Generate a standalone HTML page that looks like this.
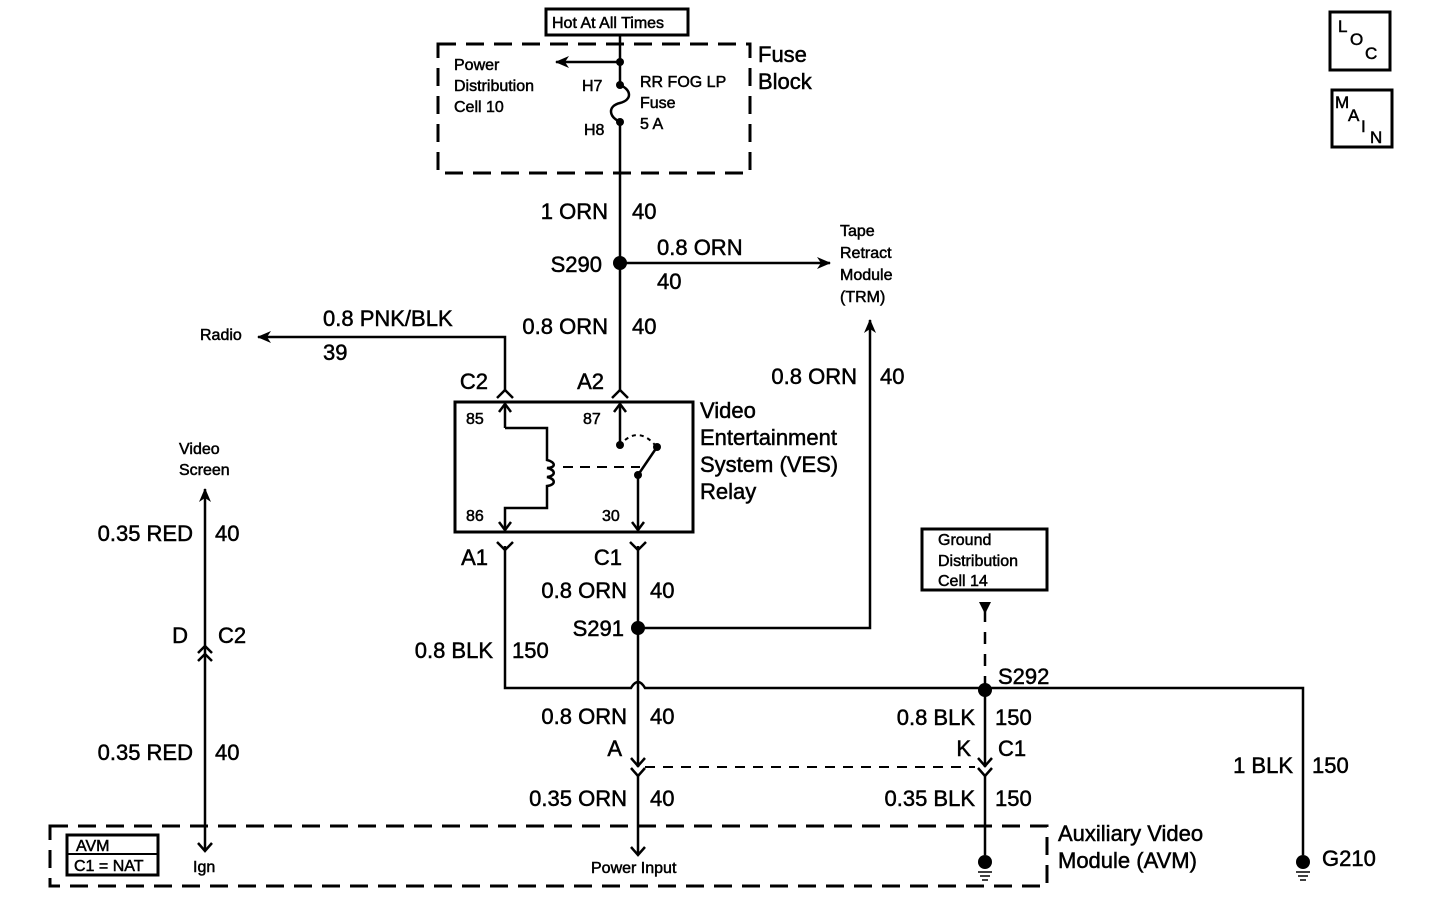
<!DOCTYPE html>
<html><head><meta charset="utf-8"><style>html,body{margin:0;padding:0;background:#fff}svg{display:block}text{font-family:"Liberation Sans",Arial,sans-serif;fill:#000;stroke:#000;stroke-width:0.5}</style></head><body>
<svg width="1440" height="910" viewBox="0 0 1440 910" xmlns="http://www.w3.org/2000/svg">
<defs>
<marker id="ar" markerWidth="14" markerHeight="12" refX="13" refY="6" orient="auto" markerUnits="userSpaceOnUse"><path d="M0,0 L14,6 L0,12 L4,6 Z" fill="#000"/></marker>
</defs>
<g fill="none" stroke="#000" stroke-width="2.5">
<rect x="546" y="9" width="142" height="26" stroke-width="3"/>
<rect x="438" y="44" width="312" height="129" stroke-dasharray="18,10" stroke-width="3"/>
<path d="M620,35 V85"/>
<path d="M620,62 H556" marker-end="url(#ar)"/>
<path d="M620,85 C632,90 632,100 620,103 C608,106 608,116 620,122 V390"/>
<path d="M620,263 H830" marker-end="url(#ar)"/>
<path d="M505,390 V337 H258" marker-end="url(#ar)"/>
<path d="M497,398 L505,390 L513,398"/><path d="M612,398 L620,390 L628,398"/>
<rect x="455" y="402" width="238" height="130" stroke-width="3"/>
<path d="M505,428 V404"/><path d="M499,412 L505,404 L511,412"/>
<path d="M505,428 H547 V460 C556,462 556,468 547,468 C556,470 556,476 547,477 C556,479 556,485 547,486 V508 H505 V530"/>
<path d="M499,522 L505,530 L511,522"/>
<path d="M620,445 V404"/><path d="M614,412 L620,404 L626,412"/>
<path d="M625,440 Q640,428 655,445" stroke-dasharray="4,4" stroke-width="2"/>
<path d="M563,467 H640" stroke-dasharray="10,7" stroke-width="2"/>
<path d="M638,475 L657,447"/>
<path d="M638,475 V530"/><path d="M632,522 L638,530 L644,522"/>
<path d="M497,542 L505,550 L513,542"/><path d="M630,542 L638,550 L646,542"/>
<path d="M505,546 V688 H631 Q638,676 645,688 H1303 V855"/>
<path d="M638,546 V767"/>
<path d="M638,628 H870 V320" marker-end="url(#ar)"/>
<rect x="922" y="529" width="125" height="61" stroke-width="3"/>
<path d="M985,610 V690" stroke-dasharray="12,10"/>
<path d="M985,690 V767"/>
<path d="M631,758 L638,766 L645,758"/><path d="M631,768 L638,776 L645,768"/>
<path d="M978,758 L985,766 L992,758"/><path d="M978,768 L985,776 L992,768"/>
<path d="M645,767 H975" stroke-dasharray="10,8" stroke-width="2"/>
<path d="M638,776 V855" /><path d="M631,847 L638,855 L645,847"/>
<path d="M985,776 V855"/>
<path d="M205,851 V489" marker-end="url(#ar)"/>
<path d="M198,653 L205,646 L212,653"/><path d="M198,661 L205,654 L212,661"/>
<path d="M198,843 L205,851 L212,843"/>
<rect x="50" y="826" width="997" height="60" stroke-dasharray="18,10" stroke-width="3"/>
<rect x="67" y="835" width="91" height="40" stroke-width="3"/>
<path d="M67,854 H158" stroke-width="2"/>
<path d="M978,872 H992 M980,876 H990 M982,880 H988" stroke-width="1.5"/>
<path d="M1296,872 H1310 M1298,876 H1308 M1300,880 H1306" stroke-width="1.5"/>
<rect x="1330" y="12" width="60" height="58" stroke-width="3"/>
<rect x="1332" y="90" width="60" height="57" stroke-width="3"/>
</g>
<g fill="#000">
<circle cx="620" cy="62" r="4"/><circle cx="620" cy="85" r="4"/><circle cx="620" cy="122" r="4"/>
<circle cx="620" cy="263" r="7"/><circle cx="638" cy="628" r="7"/><circle cx="985" cy="690" r="7"/>
<circle cx="620" cy="445" r="4"/><circle cx="638" cy="475" r="4"/><circle cx="657" cy="447" r="4"/>
<circle cx="985" cy="862" r="7"/><circle cx="1303" cy="862" r="7"/>
<path d="M979,602 L991,602 L985,614 Z"/>
</g>
<g font-size="16">
<text x="552" y="28">Hot At All Times</text>
<text x="454" y="70">Power</text><text x="454" y="91">Distribution</text><text x="454" y="112">Cell 10</text>
<text x="582" y="91">H7</text><text x="584" y="135">H8</text>
<text x="640" y="87">RR FOG LP</text><text x="640" y="108">Fuse</text><text x="640" y="129">5 A</text>
<text x="200" y="340">Radio</text>
<text x="840" y="236">Tape</text><text x="840" y="258">Retract</text><text x="840" y="280">Module</text><text x="840" y="302">(TRM)</text>
<text x="179" y="454">Video</text><text x="179" y="475">Screen</text>
<text x="938" y="545">Ground</text><text x="938" y="566">Distribution</text><text x="938" y="586">Cell 14</text>
<text x="76" y="851">AVM</text><text x="74" y="871">C1 = NAT</text>
<text x="193" y="872">Ign</text><text x="591" y="873">Power Input</text>
<text x="466" y="424">85</text><text x="466" y="521">86</text><text x="583" y="424">87</text><text x="602" y="521">30</text>
</g>
<g font-size="22">
<text x="758" y="62">Fuse</text><text x="758" y="89">Block</text>
<text x="700" y="418">Video</text><text x="700" y="445">Entertainment</text><text x="700" y="472">System (VES)</text><text x="700" y="499">Relay</text>
<text x="1058" y="841">Auxiliary Video</text><text x="1058" y="868">Module (AVM)</text>
<g text-anchor="end">
<text x="608" y="219">1 ORN</text><text x="602" y="272">S290</text><text x="608" y="334">0.8 ORN</text>
<text x="488" y="389">C2</text><text x="604" y="389">A2</text>
<text x="857" y="384">0.8 ORN</text>
<text x="488" y="565">A1</text><text x="622" y="565">C1</text>
<text x="627" y="598">0.8 ORN</text><text x="624" y="636">S291</text>
<text x="493" y="658">0.8 BLK</text>
<text x="627" y="724">0.8 ORN</text><text x="622" y="756">A</text>
<text x="627" y="806">0.35 ORN</text>
<text x="975" y="725">0.8 BLK</text><text x="971" y="756">K</text>
<text x="975" y="806">0.35 BLK</text>
<text x="1293" y="773">1 BLK</text>
<text x="193" y="541">0.35 RED</text><text x="188" y="643">D</text><text x="193" y="760">0.35 RED</text>
</g>
<text x="632" y="219">40</text><text x="657" y="255">0.8 ORN</text><text x="657" y="289">40</text>
<text x="632" y="334">40</text>
<text x="323" y="326">0.8 PNK/BLK</text><text x="323" y="360">39</text>
<text x="880" y="384">40</text>
<text x="650" y="598">40</text><text x="512" y="658">150</text>
<text x="650" y="724">40</text><text x="650" y="806">40</text>
<text x="998" y="684">S292</text>
<text x="995" y="725">150</text><text x="998" y="756">C1</text><text x="995" y="806">150</text>
<text x="1312" y="773">150</text><text x="1322" y="866">G210</text>
<text x="215" y="541">40</text><text x="218" y="643">C2</text><text x="215" y="760">40</text>
</g>
<g font-size="17">
<text x="1338" y="32">L</text><text x="1350" y="45">O</text><text x="1365" y="59">C</text>
<text x="1335" y="108">M</text><text x="1348" y="121">A</text><text x="1361" y="132">I</text><text x="1370" y="143">N</text>
</g>
</svg>
</body></html>
